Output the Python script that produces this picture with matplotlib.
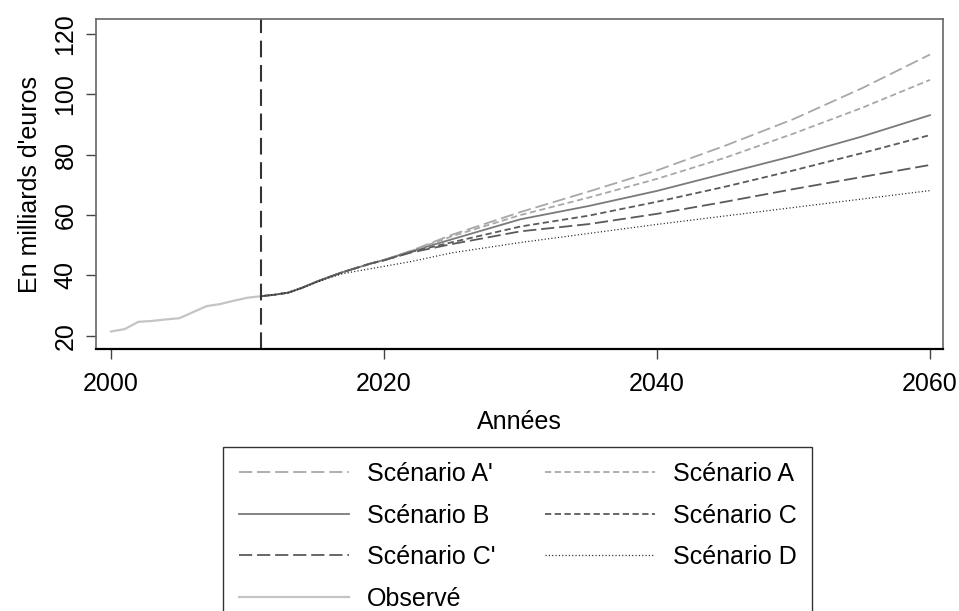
import matplotlib
matplotlib.use("Agg")
import matplotlib.pyplot as plt

plt.rcParams['font.family'] = ['Liberation Sans', 'DejaVu Sans']
plt.rcParams['lines.scale_dashes'] = False

# observed series
obs_years = [2000, 2001, 2002, 2003, 2004, 2005, 2006, 2007, 2008, 2009, 2010, 2011]
observe = [21.4, 22.2, 24.6, 24.9, 25.4, 25.8, 27.8, 29.8, 30.5, 31.6, 32.6, 33.1]

# projections
proj_years = [2011, 2012, 2013, 2014, 2015, 2016, 2017, 2018, 2019, 2020,
              2022, 2025, 2030, 2035, 2040, 2045, 2050, 2055, 2060]
start = [33.1, 33.6, 34.3, 35.9, 37.8, 39.5, 41.1, 42.5, 43.9]
scen_a_prime = start + [45.1, 48.2, 53.5, 61.0, 67.8, 74.8, 83.0, 91.8, 102.0, 113.2]
scen_a = start + [45.1, 48.1, 53.0, 60.0, 65.8, 72.0, 79.0, 87.0, 95.5, 104.8]
scen_b = start + [45.1, 48.0, 52.0, 58.6, 63.0, 68.0, 73.8, 79.6, 86.0, 93.1]
scen_c = start + [45.0, 47.8, 51.0, 56.2, 59.8, 64.4, 69.4, 74.8, 80.5, 86.5]
scen_c_prime = start + [45.0, 47.6, 50.4, 54.6, 57.0, 60.4, 64.4, 68.6, 72.6, 76.6]
scen_d = [33.1, 33.6, 34.3, 35.8, 37.6, 39.2, 40.6, 41.4, 42.2,
          43.0, 44.6, 47.5, 50.9, 53.9, 56.9, 59.7, 62.5, 65.3, 68.1]

x_ticks = [2000, 2020, 2040, 2060]
y_ticks = [20, 40, 60, 80, 100, 120]
split_year = 2011

fig = plt.figure(figsize=(9.59, 6.11), dpi=100)
ax = fig.add_axes([0.1004, 0.4283, 0.8832, 0.5411])

lw = 1.3
ax.plot(proj_years, scen_a_prime, color='#a8a8a8', lw=lw, dashes=(9.5, 3.5), label="Scénario A'")
ax.plot(proj_years, scen_b, color='#7a7a7a', lw=lw, label='Scénario B')
ax.plot(proj_years, scen_c_prime, color='#5a5a5a', lw=lw, dashes=(9.5, 3.5), label="Scénario C'")
ax.plot(obs_years, observe, color='#c4c4c4', lw=1.6, label='Observé')
ax.plot(proj_years, scen_a, color='#a8a8a8', lw=lw, dashes=(4.5, 2.5), label='Scénario A')
ax.plot(proj_years, scen_c, color='#5a5a5a', lw=lw, dashes=(4.5, 2.5), label='Scénario C')
ax.plot(proj_years, scen_d, color='#222222', lw=0.9, dashes=(0.8, 1.6), label='Scénario D')

ax.axvline(split_year, color='#333333', lw=1.5, dashes=(12, 5.5))

ax.set_xlim(1998.92, 2060.97)
ax.set_ylim(15.5, 125.07)
ax.set_xticks(x_ticks)
ax.set_yticks(y_ticks)
ax.set_yticklabels([str(v) for v in y_ticks], rotation=90, va='center')
ax.tick_params(direction='out', length=7.5, width=1, colors='#444444', labelcolor='black',
               labelsize=18)
ax.tick_params(axis='x', pad=9)
ax.tick_params(axis='y', pad=6)

for side in ['left', 'top', 'right']:
    ax.spines[side].set_color('#666666')
    ax.spines[side].set_linewidth(1.2)
ax.spines['bottom'].set_color('black')
ax.spines['bottom'].set_linewidth(1.6)

ax.set_xlabel('Années', fontsize=18, labelpad=10)
ax.set_ylabel("En milliards d'euros", fontsize=18, labelpad=8)

handles, labels = ax.get_legend_handles_labels()
leg = fig.legend(handles, labels, ncol=2, loc='upper center',
                 bbox_to_anchor=(0.540, 1 - 446.7 / 611), fontsize=18,
                 frameon=True, fancybox=False, shadow=False, framealpha=1,
                 edgecolor='#333333', handlelength=4.4, handletextpad=0.72,
                 columnspacing=2.0, labelspacing=0.7, borderpad=0.62,
                 borderaxespad=0)
leg.get_frame().set_linewidth(1.0)

fig.savefig('out.png', dpi=100)
